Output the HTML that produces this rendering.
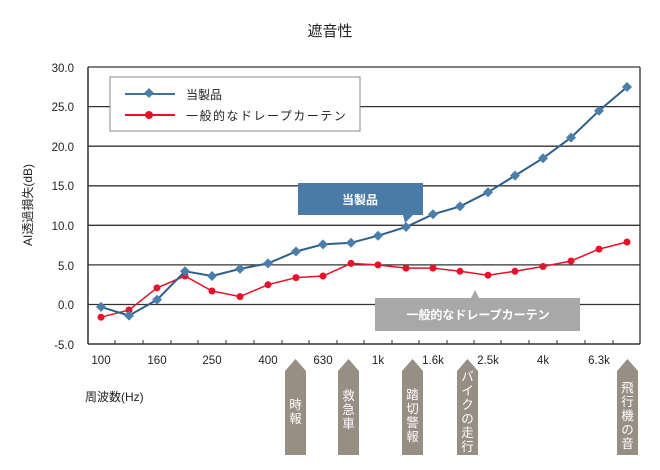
<!DOCTYPE html><html><head><meta charset="utf-8"><style>body{margin:0;background:#fff}svg text{font-family:"Liberation Sans","Noto Sans CJK JP",sans-serif}</style></head><body>
<svg width="660" height="465" viewBox="0 0 660 465" xmlns="http://www.w3.org/2000/svg">
<text x="330" y="36" font-size="15" text-anchor="middle" fill="#222">遮音性</text>
<g stroke="#333" stroke-width="1.3">
<line x1="88" y1="67" x2="640" y2="67"/><line x1="88" y1="106.6" x2="640" y2="106.6"/><line x1="88" y1="146.2" x2="640" y2="146.2"/><line x1="88" y1="185.8" x2="640" y2="185.8"/><line x1="88" y1="225.3" x2="640" y2="225.3"/><line x1="88" y1="264.9" x2="640" y2="264.9"/><line x1="88" y1="304.5" x2="640" y2="304.5"/>
<line x1="88" y1="67" x2="88" y2="344" stroke-width="1.5"/><line x1="88" y1="344" x2="640" y2="344" stroke-width="1.5"/><line x1="640" y1="67" x2="640" y2="344"/>
</g>
<g stroke="#333" stroke-width="1">
<line x1="115" y1="344" x2="115" y2="340"/><line x1="143" y1="344" x2="143" y2="340"/><line x1="171" y1="344" x2="171" y2="340"/><line x1="198" y1="344" x2="198" y2="340"/><line x1="226" y1="344" x2="226" y2="340"/><line x1="254" y1="344" x2="254" y2="340"/><line x1="282" y1="344" x2="282" y2="340"/><line x1="309" y1="344" x2="309" y2="340"/><line x1="337" y1="344" x2="337" y2="340"/><line x1="364" y1="344" x2="364" y2="340"/><line x1="392" y1="344" x2="392" y2="340"/><line x1="419" y1="344" x2="419" y2="340"/><line x1="447" y1="344" x2="447" y2="340"/><line x1="474" y1="344" x2="474" y2="340"/><line x1="501" y1="344" x2="501" y2="340"/><line x1="529" y1="344" x2="529" y2="340"/><line x1="557" y1="344" x2="557" y2="340"/><line x1="585" y1="344" x2="585" y2="340"/><line x1="613" y1="344" x2="613" y2="340"/>
</g>
<g font-size="11.5" fill="#222" text-anchor="end">
<text x="74" y="72">30.0</text><text x="74" y="111">25.0</text><text x="74" y="151">20.0</text><text x="74" y="190">15.0</text><text x="74" y="230">10.0</text><text x="74" y="270">5.0</text><text x="74" y="309">0.0</text><text x="74" y="349">-5.0</text>
</g>
<g font-size="11.5" fill="#222" text-anchor="middle">
<text x="101" y="364">100</text><text x="157" y="364">160</text><text x="212" y="364">250</text><text x="268" y="364">400</text><text x="323" y="364">630</text><text x="378" y="364">1k</text><text x="433" y="364">1.6k</text><text x="488" y="364">2.5k</text><text x="543" y="364">4k</text><text x="599" y="364">6.3k</text>
</g>
<text x="85" y="401" font-size="12" fill="#222">周波数(Hz)</text>
<text transform="translate(32,205) rotate(-90)" font-size="12" fill="#222" text-anchor="middle">AI透過損失(dB)</text>
<rect x="110" y="77" width="250" height="54" fill="#fff" stroke="#888"/>
<line x1="125" y1="94" x2="175" y2="94" stroke="#3f72a0" stroke-width="2"/><rect x="145.5" y="89.5" width="7" height="7" fill="#4a7eab" transform="rotate(45 149 93)"/>
<line x1="125" y1="115" x2="175" y2="115" stroke="#e8112a" stroke-width="2"/><circle cx="149" cy="115" r="4" fill="#e8112a"/>
<text x="186" y="99" font-size="12" fill="#222">当製品</text>
<text x="186" y="120" font-size="12" fill="#222" letter-spacing="1.5">一般的なドレープカーテン</text>
<polyline fill="none" stroke="#e8112a" stroke-width="1.5" points="101,317.2 129,310.0 157,287.9 185,276.0 212,291.0 240,296.6 268,284.7 296,277.6 323,276.0 351,263.4 378,264.9 406,268.1 433,268.1 460,271.3 488,275.2 515,271.3 543,266.5 571,261.0 599,249.1 627,242.0"/>
<g fill="#e8112a"><circle cx="101" cy="317.2" r="3.5"/><circle cx="129" cy="310" r="3.5"/><circle cx="157" cy="287.9" r="3.5"/><circle cx="185" cy="276" r="3.5"/><circle cx="212" cy="291" r="3.5"/><circle cx="240" cy="296.6" r="3.5"/><circle cx="268" cy="284.7" r="3.5"/><circle cx="296" cy="277.6" r="3.5"/><circle cx="323" cy="276" r="3.5"/><circle cx="351" cy="263.4" r="3.5"/><circle cx="378" cy="264.9" r="3.5"/><circle cx="406" cy="268.1" r="3.5"/><circle cx="433" cy="268.1" r="3.5"/><circle cx="460" cy="271.3" r="3.5"/><circle cx="488" cy="275.2" r="3.5"/><circle cx="515" cy="271.3" r="3.5"/><circle cx="543" cy="266.5" r="3.5"/><circle cx="571" cy="261" r="3.5"/><circle cx="599" cy="249.1" r="3.5"/><circle cx="627" cy="242" r="3.5"/></g>
<polyline fill="none" stroke="#2f5f8a" stroke-width="2" points="101,306.9 129,315.6 157,299.8 185,271.3 212,276.0 240,268.9 268,263.4 296,251.5 323,244.4 351,242.8 378,235.7 406,227.0 433,214.3 460,206.4 488,192.2 515,175.6 543,158.2 571,137.6 599,110.7 627,87.0"/>
<g fill="#4a7eab">
<path d="M101,301.9l5,5-5,5-5-5z"/><path d="M129,310.6l5,5-5,5-5-5z"/><path d="M157,294.8l5,5-5,5-5-5z"/><path d="M185,266.3l5,5-5,5-5-5z"/><path d="M212,271l5,5-5,5-5-5z"/><path d="M240,263.9l5,5-5,5-5-5z"/><path d="M268,258.4l5,5-5,5-5-5z"/><path d="M296,246.5l5,5-5,5-5-5z"/><path d="M323,239.4l5,5-5,5-5-5z"/><path d="M351,237.8l5,5-5,5-5-5z"/><path d="M378,230.7l5,5-5,5-5-5z"/><path d="M406,222l5,5-5,5-5-5z"/><path d="M433,209.3l5,5-5,5-5-5z"/><path d="M460,201.4l5,5-5,5-5-5z"/><path d="M488,187.2l5,5-5,5-5-5z"/><path d="M515,170.6l5,5-5,5-5-5z"/><path d="M543,153.2l5,5-5,5-5-5z"/><path d="M571,132.6l5,5-5,5-5-5z"/><path d="M599,105.7l5,5-5,5-5-5z"/><path d="M627,82l5,5-5,5-5-5z"/>
</g>
<path d="M298,183h125v32h-10l-8,8-2-8h-105z" fill="#4a7ba6"/>
<text x="360" y="204" font-size="12" fill="#fff" text-anchor="middle" font-weight="bold">当製品</text>
<path d="M375,298h96l4-8 4,8h101v33h-205z" fill="#a8a8a8"/>
<text x="478" y="319" font-size="12" fill="#fff" text-anchor="middle" font-weight="bold">一般的なドレープカーテン</text>
<g fill="#978e84">
<path d="M285,455v-84l10.5,-12 10.5,12v84z"/><path d="M338,455v-84l10.5,-12 10.5,12v84z"/><path d="M402,455v-84l10.5,-12 10.5,12v84z"/><path d="M457,455v-84l10.5,-12 10.5,12v84z"/><path d="M617,455v-84l10.5,-12 10.5,12v84z"/>
</g>
<g font-size="12.5" fill="#fff" text-anchor="middle">
<text x="295.5" y="409">時</text><text x="295.5" y="423">報</text>
<text x="348.5" y="400">救</text><text x="348.5" y="414">急</text><text x="348.5" y="428">車</text>
<text x="412.5" y="399">踏</text><text x="412.5" y="413">切</text><text x="412.5" y="427">警</text><text x="412.5" y="441">報</text>
<text x="467.5" y="381">バ</text><text x="467.5" y="395">イ</text><text x="467.5" y="409">ク</text><text x="467.5" y="423">の</text><text x="467.5" y="437">走</text><text x="467.5" y="451">行</text>
<text x="627.5" y="392">飛</text><text x="627.5" y="406">行</text><text x="627.5" y="420">機</text><text x="627.5" y="434">の</text><text x="627.5" y="448">音</text>
</g>
</svg></body></html>
